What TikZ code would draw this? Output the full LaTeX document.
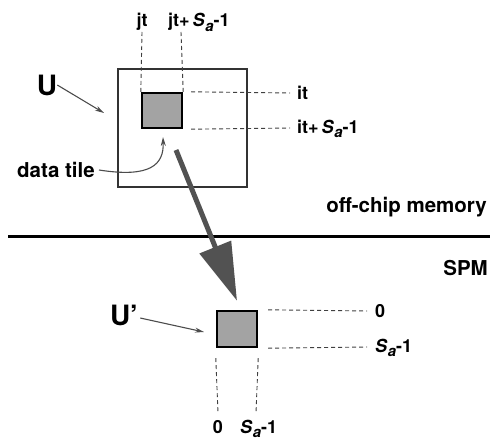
\documentclass[tikz,border=0pt]{standalone}
\usepackage{fontspec}
\setmainfont{TeX Gyre Heros}
\usetikzlibrary{arrows.meta}

% tile size S with an italic subscript a
\newcommand{\tileS}{\textit{S}\kern0.3pt\raisebox{-0.45ex}{\fontsize{15}{15}\selectfont\textit{a}}}

\begin{document}
\begin{tikzpicture}[x=1pt,y=-1pt,
  dimlbl/.style={font=\fontsize{18}{20}\selectfont\bfseries, inner sep=0pt},
  txtlbl/.style={font=\fontsize{20.5}{22}\selectfont\bfseries, inner sep=0pt},
  namelbl/.style={font=\fontsize{28}{30}\selectfont\bfseries, inner sep=0pt},
  tilebox/.style={draw=black, line width=2.4pt, fill=black!36, inner sep=0pt},
  membox/.style={draw=black!80, line width=1.3pt, inner sep=0pt},
  guide/.style={draw=black!75, line width=0.9pt, dash pattern=on 4pt off 3pt},
  pointer/.style={draw=black!70, line width=1.1pt, -{Stealth[length=9pt,width=5pt]}},
  bigarrow/.style={draw=black!68, line width=5pt, -{Triangle[length=58pt,width=33pt]}},
  divider/.style={draw=black, line width=3pt}]
  \useasboundingbox (0,0) rectangle (490,441);

  % off-chip array and its data tile
  \node[membox, minimum width=129pt, minimum height=118pt] (mem) at (182.5,128) {};
  \node[tilebox, minimum width=40pt, minimum height=35pt] (tile) at (162,110.5) {};

  \node[namelbl] (U) at (47,85) {U};
  \draw[pointer] (U.east) -- (104,113);

  % column indices of the tile
  \node[dimlbl, anchor=base] (jt) at (142,27) {jt};
  \node[dimlbl, anchor=base west] (jtS) at (168,27) {jt+\,\tileS-1};
  \coordinate (jtA) at (142,32);
  \coordinate (jtB) at (181,32);
  \draw[guide] (jtA) -- (tile.north west);
  \draw[guide] (jtB) -- (tile.north east);

  % row indices of the tile
  \node[dimlbl, anchor=west] (it) at (297,93) {it};
  \node[dimlbl, anchor=west] (itS) at (297,129) {it+\,\tileS-1};
  \draw[guide] ([xshift=8pt]tile.north east) -- ([xshift=-7pt]it.west);
  \draw[guide] ([xshift=8pt]tile.south east) -- ([xshift=-7pt,yshift=1pt]itS.west);

  \node[txtlbl, anchor=west] (dt) at (17,170) {data tile};
  \draw[pointer] ([xshift=4pt]dt.east) .. controls (150,178) and (164,165) .. (163,137);

  % boundary between the two memories
  \coordinate (divL) at (8,236);
  \coordinate (divR) at (490,236);
  \draw[divider] (divL) -- (divR);
  \node[txtlbl, anchor=base east] (off) at (487,212) {off-chip memory};
  \node[txtlbl, anchor=base east] (spm) at (488,275) {SPM};

  % copy of the tile in the scratch-pad memory
  \node[tilebox, minimum width=40pt, minimum height=36pt] (tile2) at (237,329) {};
  \node[namelbl] (U2) at (124,315) {U'};
  \draw[pointer] ([xshift=2pt,yshift=-3pt]U2.east) -- (204,332);

  \coordinate (arrS) at (176,150);
  \draw[bigarrow] (arrS) -- ([yshift=9pt]tile2.north);

  \node[dimlbl, anchor=west] (z1) at (375,311) {0};
  \node[dimlbl, anchor=west] (s1) at (375,348) {\tileS-1};
  \draw[guide] ([xshift=10pt]tile2.north east) -- ([xshift=-8pt]z1.west);
  \draw[guide] ([xshift=10pt]tile2.south east) -- ([xshift=-8pt,yshift=1pt]s1.west);

  \node[dimlbl, anchor=base] (z2) at (218,433) {0};
  \node[dimlbl, anchor=base west] (s2) at (240,433) {\tileS-1};
  \coordinate (z2top) at (218,413);
  \coordinate (s2top) at (256,413);
  \draw[guide] ([yshift=-10pt]tile2.south west) -- (z2top);
  \draw[guide] ([yshift=-10pt]tile2.south east) -- (s2top);
\end{tikzpicture}
\end{document}
